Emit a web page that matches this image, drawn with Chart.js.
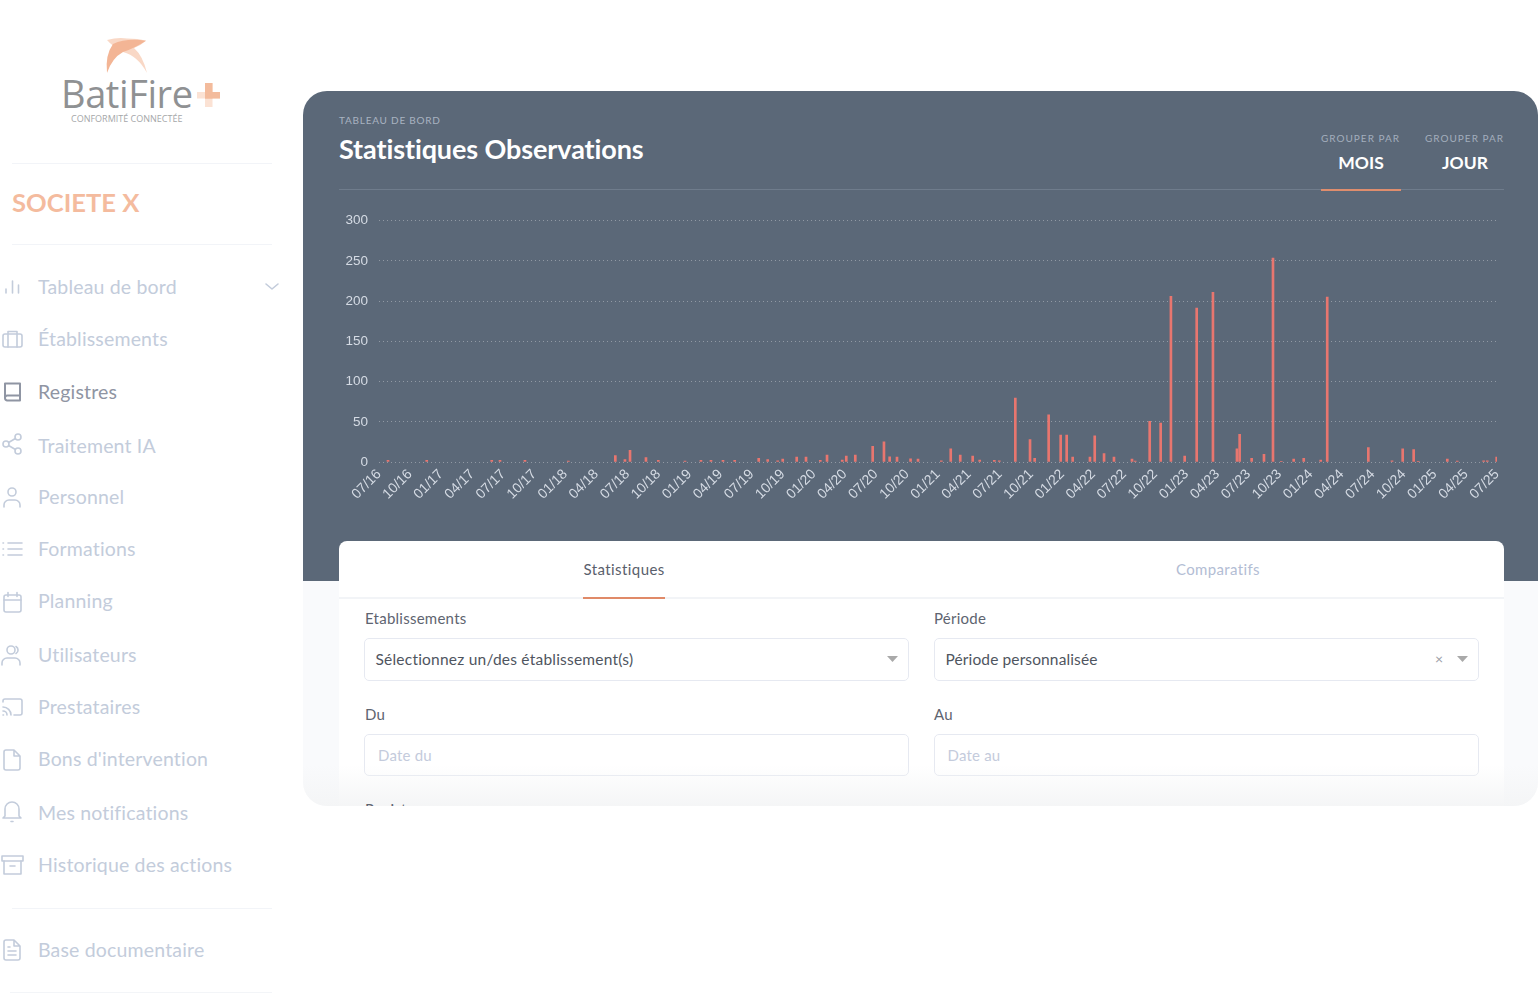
<!DOCTYPE html>
<html lang="fr"><head><meta charset="utf-8"><title>Statistiques Observations</title>
<script src="https://cdn.jsdelivr.net/npm/chart.js@4"></script>
<style>
html,body{margin:0;padding:0;background:#fff;overflow:hidden}
#page{position:relative;width:1538px;height:995px;overflow:hidden;font-family:Lato,sans-serif;background:#fff}
#page div,#page span.a{position:absolute;white-space:nowrap}
.t{line-height:1;transform:translateY(-50%)}
.menu{left:38px;color:#c3ccdb;font-size:19.5px;letter-spacing:.17px}
.hr{left:12px;width:260px;height:1px;background:#f2f4f8}
.lab{font-size:15px;color:#5e6470;letter-spacing:.25px}
.box{background:#fff;border:1px solid #e6e9f1;border-radius:5px;box-sizing:border-box}
.val{font-size:15.5px;color:#4f5560;letter-spacing:.22px}
.ph{font-size:15px;color:#c4cbdc;letter-spacing:.2px}
.gp{font-size:10px;letter-spacing:1px;color:#a3aebd}
.gv{font-size:17.5px;font-weight:700;color:#fff;text-align:center}
svg.ic{position:absolute;fill:none;stroke:#c3ccdb;stroke-width:1.6;stroke-linecap:round;stroke-linejoin:round}
</style></head><body>
<div id="page">
  <svg style="position:absolute;left:100px;top:34px" width="125" height="78" viewBox="100 34 125 78">
    <path d="M107 40 Q118 37 127 38.500 Q138 38.500 146 40.700 Q140 46 134 48 Q143 56 147 73 Q138 56 123 52 Q112 46 107 40Z" fill="#f9d8c6"/>
    <path d="M146 40.700 Q126 38 113 44 Q105 55 107 73 Q112 58 123 52 Q135 48 146 40.700Z" fill="#f3b595"/>
    <rect x="197" y="92" width="23" height="6.500" fill="#fbe2d4"/><rect x="205" y="83" width="7.500" height="24" fill="#fbe2d4"/>
    <rect x="205" y="83" width="7.500" height="15.500" fill="#f3bb9c"/><rect x="205" y="92" width="15" height="6.500" fill="#f3bb9c"/>
  </svg>
  <div class="t" style="left:61px;top:93px;font-family:'Open Sans';font-size:38px;color:#8f9193;letter-spacing:-.4px">BatiFire</div>
  <div class="t" style="left:71px;top:118px;font-family:'Open Sans';font-size:9px;color:#a5a7a9">CONFORMITÉ CONNECTÉE</div>
  <div class="hr" style="top:163px"></div><div class="hr" style="top:244px"></div><div class="hr" style="top:908px"></div>
  <div class="t" style="left:12px;top:203px;font-size:25.600px;font-weight:700;color:#f4bb9e">SOCIETE X</div>
  <div id="menu"></div>

  <svg class="ic" style="left:0;top:275px" width="24" height="24"><path d="M6 18v-4M12.500 18V6M18.500 18V10"/></svg>
  <svg class="ic" style="left:0;top:328px" width="24" height="24"><rect x="3" y="6" width="19" height="13" rx="2"/><path d="M8 19V3.500h9V19"/></svg>
  <svg class="ic" style="left:0;top:380px;stroke:#8f95a3;stroke-width:2" width="24" height="24"><path d="M5 18V3.500h15V20.500H7a2.500 2.500 0 0 1-2-2.500 2.500 2.500 0 0 1 2-2.500h13"/></svg>
  <svg class="ic" style="left:0;top:432px" width="24" height="24"><circle cx="18" cy="5" r="3"/><circle cx="6" cy="12" r="3"/><circle cx="18" cy="19" r="3"/><path d="M8.600 10.500l6.800-4M8.600 13.500l6.800 4"/></svg>
  <svg class="ic" style="left:0;top:485px" width="24" height="24"><circle cx="12" cy="7" r="4"/><path d="M4 22v-2a5 5 0 0 1 5-5h6a5 5 0 0 1 5 5v2"/></svg>
  <svg class="ic" style="left:0;top:537px" width="24" height="24"><path d="M8 6h14M8 12h14M8 18h14M3 6h.5M3 12h.5M3 18h.5"/></svg>
  <svg class="ic" style="left:0;top:590px" width="24" height="24"><rect x="4" y="5" width="17" height="17" rx="2"/><path d="M4 10h17M8 2.500v4M17 2.500v4"/></svg>
  <svg class="ic" style="left:0;top:643px" width="24" height="24"><circle cx="11" cy="7" r="4"/><path d="M2 22v-2a5 5 0 0 1 5-5h8a5 5 0 0 1 5 5v2M16 3.500a4 4 0 0 1 0 7"/></svg>
  <svg class="ic" style="left:0;top:695px" width="24" height="24"><path d="M3 7V6a2 2 0 0 1 2-2h15a2 2 0 0 1 2 2v12a2 2 0 0 1-2 2h-6M3 12a8 8 0 0 1 8 8M3 16a4 4 0 0 1 4 4M3 20h.5"/></svg>
  <svg class="ic" style="left:0;top:748px" width="24" height="24"><path d="M14 2H6a2 2 0 0 0-2 2v16a2 2 0 0 0 2 2h12a2 2 0 0 0 2-2V8zM14 2v6h6"/></svg>
  <svg class="ic" style="left:0;top:800px" width="24" height="26"><path d="M19 16V9a7 7 0 0 0-14 0v7l-2 2h18zM11 21.500h2"/></svg>
  <svg class="ic" style="left:0;top:853px" width="24" height="24"><rect x="2" y="3" width="21" height="5"/><path d="M4 8v13h17V8M10 13h5"/></svg>
  <svg class="ic" style="left:0;top:938px" width="24" height="24"><path d="M14 2H6a2 2 0 0 0-2 2v16a2 2 0 0 0 2 2h12a2 2 0 0 0 2-2V8zM14 2v6h6M8 13h8M8 17h8M8 9h2"/></svg>
  <svg class="ic" style="left:264px;top:280px" width="16" height="14"><path d="M2 4l6 5 6-5"/></svg>

  <div style="left:303px;top:91px;width:1235px;height:715px;border-radius:24px;background:#f9fafc;overflow:hidden">
    <div style="left:0;top:0;width:1235px;height:490px;background:#5b6878"></div>
  </div>
  <div class="t" style="left:339px;top:119.500px;font-size:10px;letter-spacing:.77px;color:#a9b3c1">TABLEAU DE BORD</div>
  <div class="t" style="left:339px;top:148px;font-size:27px;font-weight:700;color:#fff;letter-spacing:-.1px">Statistiques Observations</div>
  <div class="t gp" style="left:1321px;top:138px">GROUPER PAR</div>
  <div class="t gp" style="left:1425px;top:138px">GROUPER PAR</div>
  <div class="t gv" style="left:1321px;width:80px;top:163px">MOIS</div>
  <div class="t gv" style="left:1425px;width:80px;top:163px">JOUR</div>
  <div style="left:339px;top:189px;width:1165px;height:1px;background:#6f7c8c"></div>
  <div style="left:1321px;top:188.500px;width:80px;height:2px;background:#df8d6d"></div>

  <div style="left:339px;top:205px;width:1165px;height:317px"><canvas id="chart" width="1165" height="317"></canvas></div>

  <div style="left:339px;top:541px;width:1165px;height:265px;background:#fff;border-radius:8px 8px 0 0;overflow:hidden">
    <div style="left:0;top:56px;width:1165px;height:2px;background:#f2f4f7"></div>
    <div style="left:244px;top:56px;width:82px;height:1.500px;background:#e08a68"></div>
    <div class="t" style="left:244.500px;top:27.500px;font-size:15px;color:#5a606c;letter-spacing:.42px">Statistiques</div>
    <div class="t" style="left:837px;top:27.500px;font-size:15px;color:#b3bdd4;letter-spacing:.35px">Comparatifs</div>
    <div class="t lab" style="left:26px;top:76.500px">Etablissements</div>
    <div class="t lab" style="left:595px;top:76.500px">Période</div>
    <div class="box" style="left:25px;top:97px;width:545px;height:43px"></div>
    <div class="box" style="left:595px;top:97px;width:545px;height:43px"></div>
    <div class="t val" style="left:36.500px;top:118.500px">Sélectionnez un/des établissement(s)</div>
    <div class="t val" style="left:606.500px;top:118.500px;letter-spacing:.12px">Période personnalisée</div>
    <div class="t" style="left:1096px;top:118px;font-size:14px;color:#9a9ea6">×</div>
    <div class="t lab" style="left:26px;top:172.500px">Du</div>
    <div class="t lab" style="left:595px;top:172.500px">Au</div>
    <div class="box" style="left:25px;top:193px;width:545px;height:42px"></div>
    <div class="box" style="left:595px;top:193px;width:545px;height:42px"></div>
    <div class="t ph" style="left:39px;top:214px">Date du</div>
    <div class="t ph" style="left:608.500px;top:214px">Date au</div>
  </div>
  <svg style="position:absolute;left:887px;top:656px" width="12" height="7"><path d="M0 0h11l-5.500 6z" fill="#a9a9a9"/></svg>
  <svg style="position:absolute;left:1457px;top:656px" width="12" height="7"><path d="M0 0h11l-5.500 6z" fill="#a9a9a9"/></svg>
  <div style="left:303px;top:765px;width:1235px;height:41px;border-radius:0 0 24px 24px;background:linear-gradient(rgba(244,245,246,0),rgba(244,245,246,.95))"></div>
  <div style="left:360px;top:798px;width:100px;height:8px;overflow:hidden">
    <div class="t lab" style="left:5px;top:11px">Registres</div>
  </div>
  <div style="left:10px;top:992px;width:262px;height:1px;background:#f3f5f8"></div>
</div>
<script>
const tickLabels = ["07/16","10/16","01/17","04/17","07/17","10/17","01/18","04/18","07/18","10/18","01/19","04/19","07/19","10/19","01/20","04/20","07/20","10/20","01/21","04/21","07/21","10/21","01/22","04/22","07/22","10/22","01/23","04/23","07/23","10/23","01/24","04/24","07/24","10/24","01/25","04/25","07/25"];
const yTicks = [0,50,100,150,200,250,300];
const monthsSinceStart = [0.87,4.61,10.89,11.69,14.10,18.29,22.83,23.76,24.25,25.79,26.98,29.56,31.10,32.07,33.23,34.36,36.68,37.55,38.51,39.00,40.35,41.25,42.63,43.28,44.75,45.14,46.01,47.69,48.78,49.33,50.04,51.35,52.07,54.32,55.23,56.15,57.35,58.03,59.44,59.92,61.47,62.89,63.34,64.69,65.85,66.43,67.01,68.68,69.14,70.04,71.00,72.74,73.05,74.45,75.51,76.50,77.83,78.99,80.56,82.88,83.14,84.30,85.49,86.36,87.16,88.36,89.33,90.97,91.60,95.57,97.86,98.89,99.95,100.39,103.20,104.16,106.71,107.06,107.97];
const observations = [2,2,2,2,2,1,8,3,14.5,5.5,2,1,2,2,2,2,4.5,3,1.5,3.5,6,6,2,8.5,2.5,7.5,8.5,19.5,25,6.5,6,4,3.5,1.5,16.5,8.5,7.5,2.5,2,1.5,79.5,28,4.5,58.5,33.5,33.5,6,6,32.5,10.5,6,3.5,1,50.5,48.5,206,7.5,191.5,211,16.5,34.5,4.5,9.5,253.5,0.5,3.5,4.5,2.5,205,18,1.5,16.5,15.5,0.5,3.5,1,1.5,1.5,6];
const menuLabels = ["Tableau de bord","Établissements","Registres","Traitement IA","Personnel","Formations","Planning","Utilisateurs","Prestataires","Bons d'intervention","Mes notifications","Historique des actions","Base documentaire"];
const menuTops = [287,339,392,446,497,549,601,655,707,759,813,865,950];

const menu = document.getElementById('menu');
menuLabels.forEach((m,i)=>{
  const d=document.createElement('div');
  d.className='t menu'; d.textContent=m; d.style.top=menuTops[i]+'px';
  if(m==='Registres') d.style.color='#8f95a3';
  menu.appendChild(d);
});

new Chart(document.getElementById('chart'),{
  type:'bar',
  data:{datasets:[{
    data:monthsSinceStart.map((x,i)=>({x,y:observations[i]})),
    backgroundColor:'#e8766f',barThickness:2
  }]},
  options:{
    responsive:false,animation:false,
    layout:{padding:{left:0,right:7,top:15.7,bottom:0}},
    plugins:{legend:{display:false},tooltip:{enabled:false}},
    scales:{
      x:{type:'linear',min:0,max:108,offset:false,
        afterFit(s){s.height=60;s.paddingLeft=0;s.paddingRight=0},
        border:{display:false},grid:{display:false,drawTicks:false,offset:false},
        ticks:{stepSize:3,autoSkip:false,minRotation:45,maxRotation:45,padding:4,color:'#d5dbe4',
          font:{family:'Liberation Sans',size:14},
          callback:v=>tickLabels[v/3]}},
      y:{min:0,max:300,
        afterFit(s){s.width=40;s.paddingTop=0;s.paddingBottom=0},
        border:{display:false,dash:[1,3]},
        grid:{color:'rgba(255,255,255,.33)',lineWidth:1,drawTicks:false},
        afterBuildTicks(s){s.ticks=yTicks.map(value=>({value}))},
        ticks:{padding:11,color:'#d5dbe4',font:{family:'Liberation Sans',size:13.5}}}
    }
  }
});
</script>
</body></html>
